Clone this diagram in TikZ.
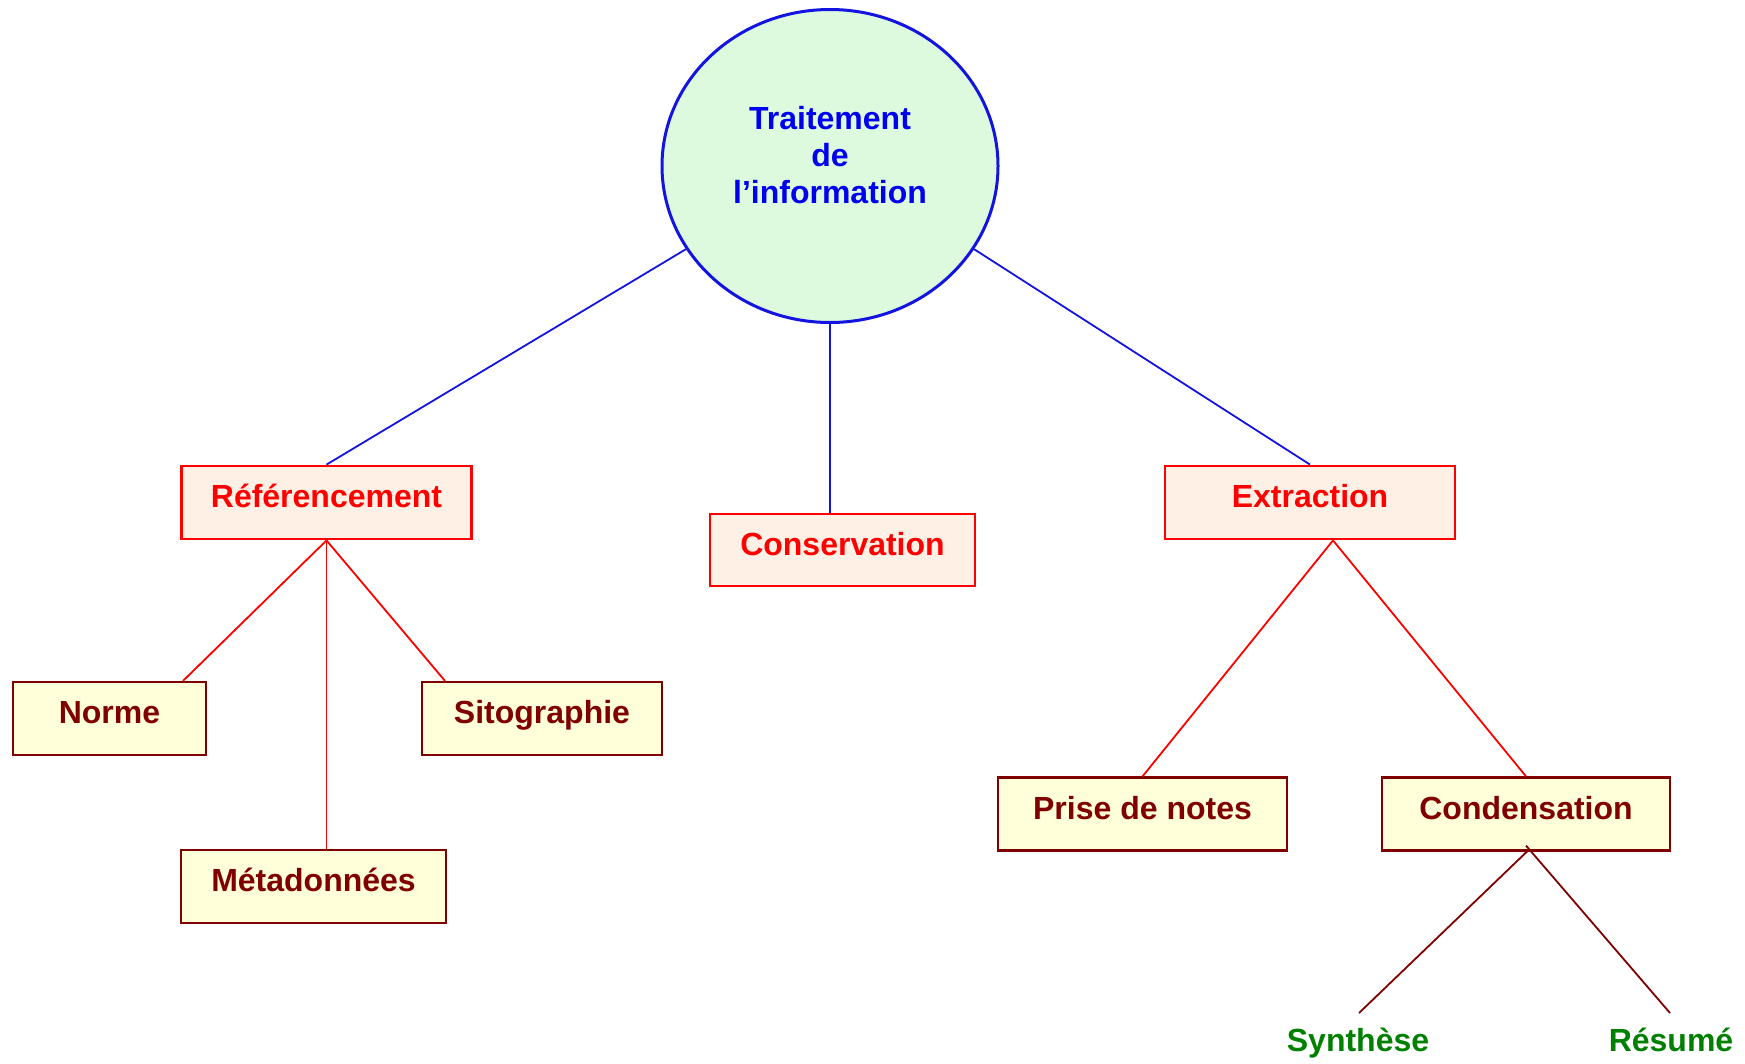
\documentclass[tikz,border=0pt]{standalone}
\usepackage{fontspec}
\setmainfont{Liberation Sans}
\usetikzlibrary{shapes.geometric,calc}
\definecolor{tblue}{RGB}{0,0,240}
\definecolor{eborder}{RGB}{20,20,225}
\definecolor{efill}{RGB}{222,250,222}
\definecolor{rred}{RGB}{255,0,0}
\definecolor{rfill}{RGB}{255,240,230}
\definecolor{brn}{RGB}{128,0,0}
\definecolor{yfill}{RGB}{255,255,218}
\definecolor{grn}{RGB}{0,128,0}
\tikzset{
  bigfont/.style={font=\bfseries\fontsize{32}{37}\selectfont},
  boxbase/.style={bigfont, rectangle, inner sep=0pt, text height=22.4pt, text depth=12.4pt, minimum height=73pt},
  redbox/.style={boxbase, draw=rred, line width=2.8pt, fill=rfill, text=rred},
  brownbox/.style={boxbase, draw=brn, line width=2.2pt, fill=yfill, text=brn},
  greentext/.style={bigfont, text=grn, inner sep=0pt, anchor=base},
  blueline/.style={draw=eborder, line width=1.8pt},
  redline/.style={draw=rred, line width=1.8pt},
  brownline/.style={draw=brn, line width=1.8pt}
}
\begin{document}
\begin{tikzpicture}[x=1pt,y=-1pt]
\useasboundingbox (0,0) rectangle (1745,1063);
% root
\node[ellipse, draw=eborder, line width=3pt, fill=efill, minimum width=336pt, minimum height=313pt, inner sep=0pt] (ell) at (830,166) {};
\node[bigfont, text=tblue, align=center, inner sep=0pt] (title) at (830,155) {Traitement\\de\\l’information};
% level 1
\node[redbox, minimum width=290pt] (ref) at (326.5,502.5) {Référencement};
\node[redbox, minimum width=265pt, minimum height=72pt] (cons) at (842.5,550) {Conservation};
\node[redbox, minimum width=290pt] (extr) at (1310,502.5) {Extraction};
% level 2
\node[brownbox, minimum width=193pt] (norme) at (109.5,718.5) {Norme};
\node[brownbox, minimum width=240pt] (sito) at (542,718.5) {Sitographie};
\node[brownbox, minimum width=265pt] (meta) at (313.5,886.5) {Métadonnées};
\node[brownbox, minimum width=289pt] (prise) at (1142.5,814) {Prise de notes};
\node[brownbox, minimum width=288pt] (cond) at (1526,814) {Condensation};
% level 3
\node[greentext] (syn) at (1358,1051) {Synthèse};
\node[greentext] (res) at (1671,1051) {Résumé};
% attachment points
\coordinate (normetop) at ($(norme.north)+(73.5,0)$);
\coordinate (sitotop) at ($(sito.north)+(-97,0)$);
\coordinate (extrbot) at ($(extr.south)+(23,0)$);
\coordinate (condbotA) at ($(cond.south)+(0,-6)$);
\coordinate (condbotB) at ($(cond.south)+(3,-2)$);
\coordinate (synend) at ($(syn.base)+(1,-38)$);
\coordinate (resend) at ($(res.base)+(-1,-38)$);
% connectors
\draw[blueline] (ell.210) -- (ref.north);
\draw[blueline] (ell.south) -- (ell.south |- cons.north);
\draw[blueline] (ell.330) -- (extr.north);
\draw[redline] (ref.south) -- (normetop);
\draw[redline] (ref.south) -- (ref.south |- meta.north);
\draw[redline] (ref.south) -- (sitotop);
\draw[redline] (extrbot) -- (prise.north);
\draw[redline] (extrbot) -- (cond.north);
\draw[brownline] (condbotB) -- (synend);
\draw[brownline] (condbotA) -- (resend);
\end{tikzpicture}
\end{document}
